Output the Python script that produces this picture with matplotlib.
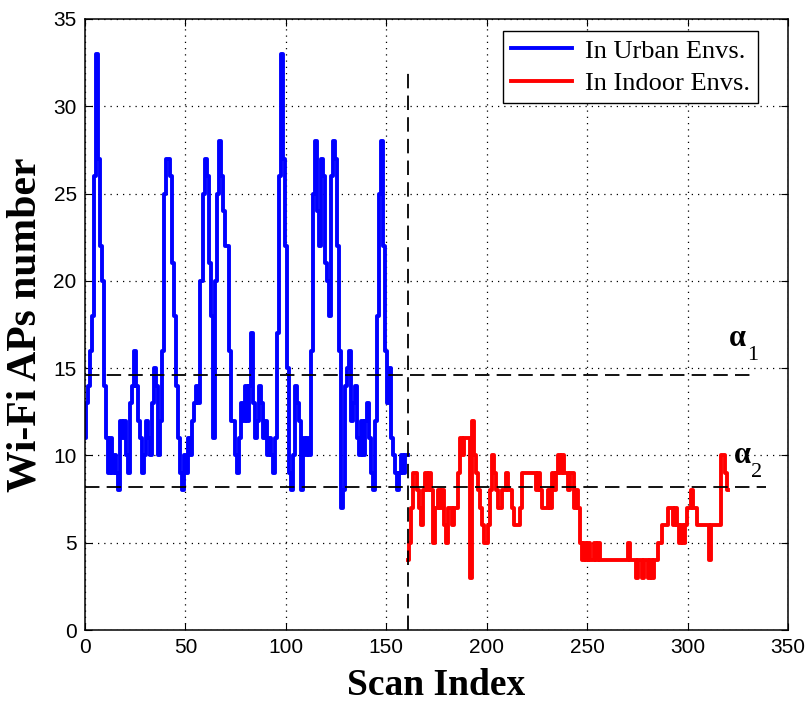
import matplotlib
matplotlib.use("Agg")
import matplotlib.pyplot as plt
import numpy as np

# Wi-Fi AP counts per scan
urban_start = 0
urban_aps = [11, 13, 14, 16, 18, 26, 33, 27, 22, 20,
             14, 11, 9, 11, 9, 10, 9, 8, 12, 11,
             12, 10, 9, 13, 14, 16, 14, 12, 11, 9,
             10, 12, 11, 10, 13, 15, 14, 10, 12, 16,
             25, 27, 27, 26, 21, 18, 14, 11, 9, 8,
             10, 9, 11, 10, 12, 13, 14, 13, 20, 25,
             27, 26, 21, 18, 11, 20, 25, 28, 26, 24,
             22, 22, 16, 12, 12, 10, 9, 11, 13, 12,
             14, 12, 14, 17, 13, 11, 12, 14, 13, 11,
             12, 10, 11, 10, 9, 11, 17, 26, 33, 27,
             22, 15, 9, 8, 10, 14, 13, 12, 8, 11,
             10, 11, 10, 16, 25, 28, 24, 22, 27, 26,
             21, 20, 18, 26, 28, 27, 22, 16, 7, 8,
             14, 15, 16, 12, 13, 14, 11, 10, 12, 10,
             12, 13, 11, 9, 8, 12, 18, 25, 28, 22,
             16, 13, 15, 11, 10, 9, 8, 9, 10, 9,
             10, 10]

indoor_start = 161
indoor_aps = [4, 5, 7, 9, 9, 8, 7, 6, 8, 9,
              8, 9, 8, 5, 7, 8, 7, 8, 6, 5,
              7, 7, 6, 7, 7, 9, 11, 10, 11, 11,
              11, 3, 12, 10, 9, 8, 7, 6, 5, 5,
              6, 8, 10, 9, 8, 7, 7, 8, 8, 9,
              8, 8, 7, 6, 6, 6, 7, 9, 9, 9,
              9, 9, 9, 9, 8, 9, 8, 7, 7, 7,
              8, 7, 9, 8, 9, 10, 9, 10, 9, 9,
              8, 9, 9, 7, 8, 7, 5, 4, 5, 4,
              5, 4, 4, 5, 4, 5, 4, 4, 4, 4,
              4, 4, 4, 4, 4, 4, 4, 4, 4, 4,
              5, 4, 4, 4, 3, 4, 4, 3, 4, 4,
              3, 4, 3, 4, 4, 5, 5, 6, 6, 6,
              7, 7, 6, 7, 6, 5, 6, 5, 6, 7,
              7, 8, 7, 7, 6, 6, 6, 6, 6, 6,
              4, 6, 6, 6, 6, 6, 10, 10, 9, 8]

alpha1 = 14.6
alpha2 = 8.2
split_index = 161

serif = ["Liberation Serif", "DejaVu Serif"]
sans = ["Liberation Sans", "DejaVu Sans"]

fig = plt.figure(figsize=(8.06, 7.11), dpi=100)
ax = fig.add_axes([85 / 806, 81 / 711, 703 / 806, 611 / 711])

x_urban = np.arange(urban_start, urban_start + len(urban_aps))
x_indoor = np.arange(indoor_start, indoor_start + len(indoor_aps))
ax.plot(x_urban, urban_aps, color="#0000ff", lw=2.8, drawstyle="steps-mid",
        label="In Urban Envs.")
ax.plot(x_indoor, indoor_aps, color="#ff0000", lw=2.8, drawstyle="steps-mid",
        label="In Indoor Envs.")

dash = (0, (8, 4))
ax.plot([0, 333], [alpha1, alpha1], color="black", lw=1.3, linestyle=dash)
ax.plot([0, 339], [alpha2, alpha2], color="black", lw=1.3, linestyle=dash)
ax.plot([split_index, split_index], [0, 32], color="black", lw=1.3, linestyle=dash)

# alpha markers: greek letter plus a lowered index
ax.text(325, 16.7, "α", family=serif, fontsize=22, fontweight="bold", ha="center", va="center")
ax.text(332.5, 15.7, "1", family=serif, fontsize=16, ha="center", va="center")
ax.text(327.5, 10.0, "α", family=serif, fontsize=22, fontweight="bold", ha="center", va="center")
ax.text(334.5, 9.0, "2", family=serif, fontsize=16, ha="center", va="center")

ax.set_xlim(0, 350)
ax.set_ylim(0, 35)
ax.set_xticks(np.arange(0, 351, 50))
ax.set_yticks(np.arange(0, 36, 5))
ax.grid(True, color="black", linestyle=(0, (1, 4)), lw=0.9)
ax.tick_params(direction="in", length=5, top=True, right=True, labelsize=15, pad=6)
for lab in ax.get_xticklabels() + ax.get_yticklabels():
    lab.set_family(sans)
for s in ax.spines.values():
    s.set_linewidth(1.1)

ax.set_xlabel("Scan Index", family=serif, fontsize=27, fontweight="bold", labelpad=8)
ax.set_ylabel("Wi-Fi APs number", family=serif, fontsize=30, fontweight="bold", labelpad=6)

leg = ax.legend(loc="upper right", bbox_to_anchor=(0.957, 0.980), borderaxespad=0,
                prop={"family": serif, "size": 19}, handlelength=2.3,
                fancybox=False, framealpha=1, edgecolor="black",
                borderpad=0.3, labelspacing=0.35, handletextpad=0.5)
leg.get_frame().set_linewidth(1.0)

fig.savefig("out.png", dpi=100)
